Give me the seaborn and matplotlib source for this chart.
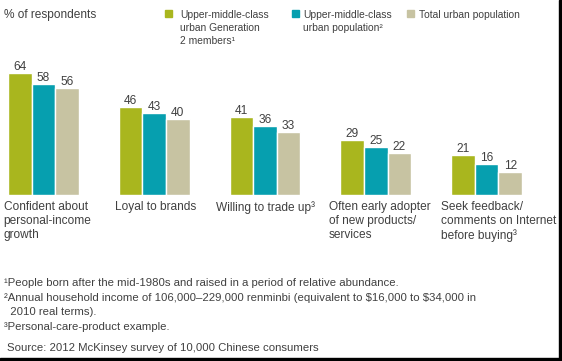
import matplotlib
matplotlib.use("Agg")
import matplotlib.pyplot as plt
from matplotlib.patches import Rectangle
import seaborn as sns
import pandas as pd

# ---- data ----
categories = [
    "Confident about\npersonal-income\ngrowth",
    "Loyal to brands",
    "Willing to trade up\u00b3",
    "Often early adopter\nof new products/\nservices",
    "Seek feedback/\ncomments on Internet\nbefore buying\u00b3",
]
series_names = [
    "Upper-middle-class\nurban Generation\n2 members\u00b9",
    "Upper-middle-class\nurban population\u00b2",
    "Total urban population",
]
gen2_values = [64, 46, 41, 29, 21]
umc_values = [58, 43, 36, 25, 16]
total_values = [56, 40, 33, 22, 12]
title_text = "% of respondents"
footnotes = [
    "\u00b9People born after the mid-1980s and raised in a period of relative abundance.",
    "\u00b2Annual household income of 106,000\u2013229,000 renminbi (equivalent to \\$16,000 to \\$34,000 in",
    "  2010 real terms).",
    "\u00b3Personal-care-product example.",
]
source_text = "Source: 2012 McKinsey survey of 10,000 Chinese consumers"

colors = ["#A9B61E", "#069FAF", "#C7C3A2"]
text_color = "#404040"

rows = []
for s, vals in zip(series_names, [gen2_values, umc_values, total_values]):
    for c, v in zip(categories, vals):
        rows.append({"category": c, "series": s, "value": v})
df = pd.DataFrame(rows)

sns.set_style("white")
plt.rcParams["font.family"] = ["Liberation Sans", "DejaVu Sans"]

W, H = 562, 361
fig = plt.figure(figsize=(W / 100, H / 100), dpi=100)

def fx(px):
    return px / W

def fy(py):
    return 1 - py / H

# axes: bars from x=8 to 522 px, baseline y=195 px, 1.91 px per unit
ymax = 70
ax_left, ax_right = 8, 522
ax_bottom = 195
ax_top = ax_bottom - ymax * 1.91
ax = fig.add_axes([fx(ax_left), fy(ax_bottom), (ax_right - ax_left) / W, (ax_bottom - ax_top) / H])

sns.barplot(data=df, x="category", y="value", hue="series", palette=colors,
            width=0.64, gap=0, ax=ax, legend=False, saturation=1)
ax.set_xlim(-0.32, len(categories) - 1 + 0.32)
ax.set_ylim(0, ymax)
ax.set_axis_off()

for cont in ax.containers:
    ax.bar_label(cont, padding=0, fontsize=8.6, color=text_color)

# category labels (left aligned, under each group)
label_offsets = [-0.36, -0.354, -0.444, -0.425, -0.411]
for i, (c, off) in enumerate(zip(categories, label_offsets)):
    ax.annotate(c, xy=(i + off, 0), xycoords="data", xytext=(0, -4.5),
                textcoords="offset points", ha="left", va="top",
                fontsize=8.6, color=text_color, linespacing=1.22,
                annotation_clip=False)

# title
fig.text(fx(3.5), fy(15), title_text, ha="left", va="center", fontsize=8.6, color=text_color)

# legend (manual)
sq_x = [165, 291.7, 407.3]
tx_x = [180, 303.3, 419.3]
for col, name, sx, tx in zip(colors, series_names, sq_x, tx_x):
    fig.patches.append(Rectangle((fx(sx), fy(17)), 7 / W, 7 / H,
                                 transform=fig.transFigure, color=col, figure=fig))
    fig.text(fx(tx), fy(10.3), name, ha="left", va="top", fontsize=7.4,
             color=text_color, linespacing=1.35)

# footnotes
foot_y = [283.3, 298.3, 311.7, 327.3]
for t, y in zip(footnotes, foot_y):
    fig.text(fx(3.5), fy(y), t, ha="left", va="center", fontsize=8.2, color=text_color)
fig.text(fx(7.3), fy(348.3), source_text, ha="left", va="center", fontsize=8.2, color=text_color)

# frame lines (right and bottom)
fig.patches.append(Rectangle((fx(559), 0), 3 / W, 1, transform=fig.transFigure,
                             color="black", figure=fig))
fig.patches.append(Rectangle((0, 0), 1, 3.5 / H, transform=fig.transFigure,
                             color="black", figure=fig))

fig.savefig("out.png", dpi=100)
